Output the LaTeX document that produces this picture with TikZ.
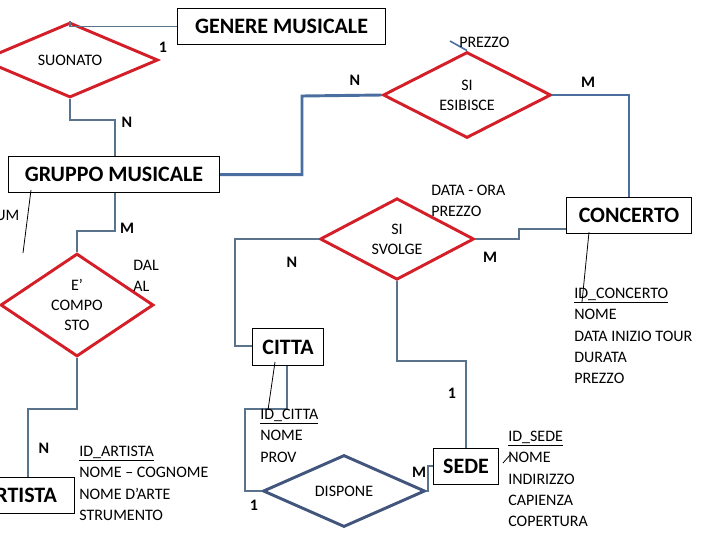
\documentclass[tikz,border=0pt]{standalone}
\usepackage{fontspec}
\setmainfont{Carlito}
\usetikzlibrary{shapes.geometric}
\definecolor{rd}{RGB}{212,30,40}
\definecolor{ln}{RGB}{90,115,140}
\definecolor{tk}{RGB}{75,110,160}
\definecolor{db}{RGB}{65,85,125}
\begin{document}
\begin{tikzpicture}[x=0.75pt,y=-0.75pt,
 ent/.style={draw,line width=0.8pt,font=\fontsize{16.5}{18}\selectfont\bfseries,inner sep=0pt,anchor=north west},
 rel/.style 2 args={diamond,draw=rd,line width=2.2pt,minimum width=#1*0.75pt,minimum height=#2*0.75pt,inner sep=0pt,font=\fontsize{12}{15}\selectfont,align=center},
 lbl/.style={font=\fontsize{12}{14}\selectfont\bfseries},
 att/.style={font=\fontsize{12}{16}\selectfont,align=left,anchor=north west,inner sep=0pt},
 c/.style={draw=ln,line width=0.9pt},
 ck/.style={draw=tk,line width=2.2pt}]
\useasboundingbox (0,0) rectangle (720,540);
\clip (0,0) rectangle (720,540);
% entities
\node[ent,minimum width=208*0.75pt,minimum height=36*0.75pt] (gen) at (177,8) {GENERE MUSICALE};
\node[ent,minimum width=211*0.75pt,minimum height=36*0.75pt] (grp) at (8,156) {GRUPPO MUSICALE};
\node[ent,minimum width=125*0.75pt,minimum height=36*0.75pt] (con) at (566,197) {CONCERTO};
\node[ent,minimum width=71*0.75pt,minimum height=37*0.75pt] (cit) at (252,328) {CITTA};
\node[ent,minimum width=65*0.75pt,minimum height=36*0.75pt] (sed) at (433,448) {SEDE};
\node[ent,minimum width=110*0.75pt,minimum height=36*0.75pt,anchor=north east,align=right,inner xsep=3pt] (art) at (75,477) {\hfill ARTISTA};
% relationships
\node[rel={176}{46}] (suo) at (70,60) {SUONATO};
\node[rel={168}{64}] (esi) at (467,95) {SI\\ESIBISCE};
\node[rel={154}{72}] (svo) at (397,239) {SI\\SVOLGE};
\node[rel={153}{74}] (cmp) at (77,305) {E’\\COMPO\\STO};
\node[rel={162}{72},draw=db] (dis) at (344,491) {DISPONE};
% connectors
\draw[c] (suo.north) |- (gen.west);
\draw[c] (suo.south) |- (115,120) -- (grp.north -| 115,0);
\draw[ck] (grp.east) -| (302,96) -- (esi.west);
\draw[ck] (esi.east) -| (con.north -| 629,0);
\draw[c,draw=tk,line width=1.2pt] (esi.north) -- (450,41);
\draw[c] (grp.south -| 115,0) |- (77,231) -- (cmp.north);
\draw[c] (cmp.south) |- (28,409) -- (art.north -| 28,0);
\draw[c] (svo.east) -| (519,229) -- (con.west |- 0,229);
\draw[c] (svo.west) -| (235,346) -- (cit.west |- 0,346);
\draw[c] (svo.south) |- (466,361) -- (sed.north -| 466,0);
\draw[c] (cit.south -| 287,0) |- (245,409) |- (dis.west);
\draw[c] (dis.east) -| (428,466) -- (sed.west |- 0,466);
% attribute lines
\draw[line width=0.6pt] (31,190) -- (23,253);
\draw[line width=0.6pt] (589,232) -- (582,302);
\draw[line width=0.6pt] (275,362) -- (268,410);
\draw[line width=0.6pt] (503,463) -- (510,455);
% labels
\node[lbl] (l1) at (163,47) {1};
\node[lbl] (l2) at (127,122) {N};
\node[lbl] (l3) at (355,80) {N};
\node[lbl] (l4) at (588,82) {M};
\node[lbl] (l5) at (127,228) {M};
\node[lbl] (l6) at (44,448) {N};
\node[lbl] (l7) at (292,262) {N};
\node[lbl] (l8) at (490,257) {M};
\node[lbl] (l9) at (452,393) {1};
\node[lbl] (l10) at (419,472) {M};
\node[lbl] (l11) at (254,505) {1};
% attributes
\node[att,anchor=west] (pz) at (459,42) {PREZZO};
\node[att,anchor=west] (um) at (-5,215) {UM};
\node[att] (dal) at (133,260) {DAL\\AL};
\node[att] (dor) at (431,185) {DATA - ORA\\PREZZO};
\node[att] (aart) at (79,446) {\underline{ID\_ARTISTA}\\NOME – COGNOME\\NOME D’ARTE\\STRUMENTO};
\node[att] (acit) at (260,409) {\underline{ID\_CITTA}\\NOME\\PROV};
\node[att] (acon) at (574,288) {\underline{ID\_CONCERTO}\\NOME\\DATA INIZIO TOUR\\DURATA\\PREZZO};
\node[att] (ased) at (508,431) {\underline{ID\_SEDE}\\NOME\\INDIRIZZO\\CAPIENZA\\COPERTURA};
\end{tikzpicture}
\end{document}
